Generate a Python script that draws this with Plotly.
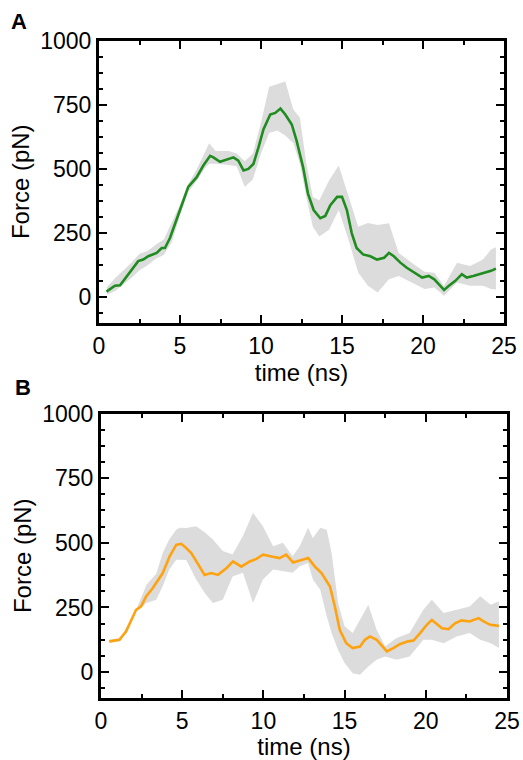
import plotly.graph_objects as go

# ---------------- Panel A data ----------------
time_a = [0.46, 0.98, 1.3, 1.9, 2.42, 2.73, 3.04, 3.56, 3.87, 4.07, 4.38, 5.0, 5.51, 6.03, 6.44,
          6.86, 7.06, 7.47, 7.9, 8.3, 8.6, 8.92, 9.22, 9.53, 9.84, 10.15, 10.57, 10.88, 11.2, 11.5,
          11.9, 12.2, 12.6, 12.9, 13.25, 13.66, 13.97, 14.28, 14.7, 15.0, 15.3, 15.6, 15.9, 16.3,
          16.75, 17.16, 17.6, 17.9, 18.2, 18.6, 19.0, 19.5, 19.95, 20.35, 20.7, 20.97, 21.3, 21.6,
          22.0, 22.4, 22.7, 23.1, 23.8, 24.2, 24.5]
force_a = [22, 45, 47, 96, 141, 147, 160, 173, 192, 192, 231, 340, 430, 468, 513,
           551, 545, 528, 538, 545, 532, 494, 500, 519, 583, 654, 712, 718, 735, 712,
           673, 609, 506, 404, 340, 308, 317, 359, 391, 391, 340, 250, 192, 167,
           160, 147, 154, 173, 160, 135, 115, 96, 77, 83, 70, 51, 29, 45,
           64, 90, 77, 83, 96, 103, 112]

band_time_a = [0.5, 1.0, 2.0, 2.5, 3.0, 3.5, 4.0, 4.5, 5.0, 5.5, 6.0, 6.5, 6.8, 7.2, 8.0, 8.5,
               9.0, 9.5, 10.0, 10.5, 11.0, 11.5, 12.0, 12.4, 12.8, 13.2, 13.6, 14.2, 14.8, 15.4,
               16.0, 16.6, 17.2, 17.9, 18.5, 19.3, 20.1, 20.7, 21.3, 22.1, 22.9, 23.7, 24.2, 24.5]
upper_a = [40, 75, 135, 170, 180, 205, 225, 290, 360, 440, 495, 560, 600, 570, 570, 560,
           530, 560, 680, 820, 830, 840, 730, 700, 520, 391, 378, 455, 513, 391,
           275, 289, 282, 288, 173, 135, 100, 96, 45, 135, 122, 147, 186, 195]
lower_a = [10, 25, 75, 105, 125, 150, 165, 215, 320, 410, 450, 500, 520, 520, 515, 510,
           430, 460, 560, 640, 650, 630, 600, 520, 390, 275, 237, 263, 340, 224,
           97, 45, 19, 70, 83, 58, 32, 38, 6, 58, 45, 45, 32, 30]

# ---------------- Panel B data ----------------
time_b = [0.51, 1.13, 1.54, 2.16, 2.47, 2.78, 3.19, 3.8, 4.22, 4.63, 4.94, 5.14, 5.56, 6.07,
          6.38, 6.79, 7.2, 7.72, 8.13, 8.64, 9.16, 9.57, 9.98, 10.5, 11.0, 11.4, 11.83, 12.35,
          12.76, 13.17, 13.58, 14.1, 14.4, 14.7, 15.1, 15.5, 15.95, 16.25, 16.56, 16.98, 17.4,
          17.6, 18.0, 18.4, 18.9, 19.24, 19.65, 20.06, 20.37, 20.68, 21.0, 21.4, 21.8, 22.2,
          22.7, 23.25, 23.56, 23.97, 24.5]
force_b = [119, 125, 157, 241, 254, 293, 325, 383, 447, 492, 496, 486, 460, 408,
           376, 383, 376, 402, 428, 408, 428, 438, 454, 447, 441, 454, 424, 434,
           441, 408, 383, 331, 254, 164, 112, 93, 99, 125, 138, 125, 93,
           80, 93, 108, 119, 122, 151, 183, 202, 187, 170, 166, 189, 200,
           196, 209, 196, 183, 179]

band_time_b = [0.5, 1.2, 2.2, 2.8, 3.4, 3.8, 4.2, 4.63, 4.83, 5.25, 5.86, 6.4, 6.89, 7.5, 8.1,
               8.74, 9.36, 9.97, 10.6, 11.2, 11.8, 12.24, 12.75, 13.05, 13.5, 13.9, 14.2, 14.6,
               15.0, 15.5, 15.95, 16.46, 16.97, 17.5, 18.2, 19.0, 19.85, 20.37, 21.1, 21.9,
               22.7, 23.35, 24.0, 24.5]
upper_b = [125, 131, 246, 338, 380, 461, 513, 551, 558, 557, 564, 540, 513, 468, 455,
           526, 616, 564, 487, 500, 448, 487, 558, 519, 558, 551, 461, 267,
           177, 151, 203, 261, 164, 100, 132, 151, 241, 280, 229, 241,
           254, 293, 261, 274]
lower_b = [113, 119, 236, 267, 280, 332, 396, 435, 435, 434, 358, 305, 267, 280, 370,
           384, 267, 358, 397, 390, 384, 409, 422, 358, 319, 216, 151, 86,
           35, -4, -10, 22, 48, 60, 48, 60, 125, 125, 112, 138,
           151, 125, 112, 93]

BAND = "#dcdcdc"
GREEN = "#1f8c1f"
ORANGE = "#ffa20f"
FONT = "Liberation Sans, Arial, Helvetica, sans-serif"

fig = go.Figure()

def add_panel(t_band, lo, up, t, f, color, xa, ya):
    fig.add_trace(go.Scatter(x=t_band, y=lo, mode="lines", line=dict(width=0, color=BAND),
                             showlegend=False, hoverinfo="skip", xaxis=xa, yaxis=ya))
    fig.add_trace(go.Scatter(x=t_band, y=up, mode="lines", line=dict(width=0, color=BAND),
                             fill="tonexty", fillcolor=BAND, showlegend=False,
                             hoverinfo="skip", xaxis=xa, yaxis=ya))
    fig.add_trace(go.Scatter(x=t, y=f, mode="lines", line=dict(width=2.6, color=color),
                             showlegend=False, xaxis=xa, yaxis=ya))

add_panel(band_time_a, lower_a, upper_a, time_a, force_a, GREEN, "x", "y")
add_panel(band_time_b, lower_b, upper_b, time_b, force_b, ORANGE, "x2", "y2")

W, H = 523, 760

def xaxis_cfg(left, right, anchor):
    return dict(domain=[left / W, right / W], anchor=anchor, range=[0, 25],
                tickmode="array", tickvals=[0, 5, 10, 15, 20, 25],
                ticks="inside", ticklen=8, tickwidth=1.5, tickcolor="black",
                minor=dict(dtick=2.5, tick0=0, ticks="inside", ticklen=4, tickwidth=1.5,
                           tickcolor="black", showgrid=False),
                showline=True, linewidth=3, linecolor="black", mirror="ticks",
                showgrid=False, zeroline=False, automargin=False,
                tickfont=dict(size=23, color="black", family=FONT),
                title=dict(text="time (ns)", font=dict(size=24, color="black", family=FONT),
                           standoff=0))

def yaxis_cfg(top, bottom, anchor):
    return dict(domain=[1 - bottom / H, 1 - top / H], anchor=anchor, range=[-100, 1000],
                tickmode="array", tickvals=[0, 250, 500, 750, 1000],
                ticks="inside", ticklen=8, tickwidth=1.5, tickcolor="black",
                minor=dict(dtick=62.5, tick0=0, ticks="inside", ticklen=4, tickwidth=1.5,
                           tickcolor="black", showgrid=False),
                showline=True, linewidth=3, linecolor="black", mirror="ticks",
                showgrid=False, zeroline=False, automargin=False,
                tickfont=dict(size=23, color="black", family=FONT),
                title=dict(text="Force (pN)", font=dict(size=24, color="black", family=FONT),
                           standoff=4))

fig.update_layout(
    width=W, height=H,
    margin=dict(l=0, r=0, t=0, b=0),
    paper_bgcolor="white", plot_bgcolor="white",
    xaxis=xaxis_cfg(99, 504, "y"),
    yaxis=yaxis_cfg(40.5, 323, "x"),
    xaxis2=xaxis_cfg(101, 507, "y2"),
    yaxis2=yaxis_cfg(413.5, 698, "x2"),
    annotations=[
        dict(text="<b>A</b>", x=19 / W, y=1 - 21.5 / H, xref="paper", yref="paper",
             xanchor="center", yanchor="middle",
             showarrow=False, font=dict(size=22, color="black", family=FONT)),
        dict(text="<b>B</b>", x=22.5 / W, y=1 - 387.5 / H, xref="paper", yref="paper",
             xanchor="center", yanchor="middle",
             showarrow=False, font=dict(size=22, color="black", family=FONT)),
    ],
)

fig.write_html("out.html", config={"displayModeBar": False},
               post_script="document.body.style.margin='0';document.body.style.padding='0';")
